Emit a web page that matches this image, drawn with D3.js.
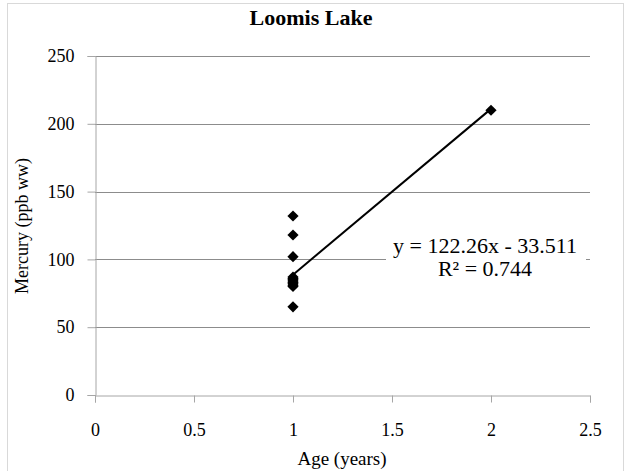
<html>
<head>
	<meta charset="utf-8">
	<script src="https://d3js.org/d3.v7.min.js"></script>
	<style>
		body { margin: 0; background: white; }
		text { font-family: "Liberation Serif", "Times New Roman", serif; fill: black; }
	</style>
</head>
<body>
	<div id="output"></div>
	<script>
		// data
		var ages = [1, 1, 1, 1, 1, 1, 1, 1, 1, 1, 1, 1, 2];
		var mercury = [132, 118, 102, 87, 86, 85, 84, 83, 82, 81, 80, 65, 210];
		var xTicks = [0, 0.5, 1, 1.5, 2, 2.5];
		var yTicks = [0, 50, 100, 150, 200, 250];
		var trendCoef = [122.26, -33.511]; // slope, intercept
		var trendRange = [1, 2];
		var trendText = ["y = 122.26x - 33.511", "R² = 0.744"];

		var width = 627, height = 471;
		var svg = d3.select("#output")
			.append("svg")
			.attr("width", width)
			.attr("height", height);

		// chart frame
		svg.append("rect")
			.attr("x", 7.5).attr("y", 3.5)
			.attr("width", 616).attr("height", 470)
			.style("fill", "white")
			.style("stroke", "#d9d9d9");

		var x = d3.scaleLinear().domain([0, 2.5]).range([95, 590]);
		var y = d3.scaleLinear().domain([0, 250]).range([395, 56]);

		// gridlines
		svg.selectAll(".grid")
			.data(yTicks.filter(function(d){ return d > 0; }))
			.enter().append("line")
			.attr("x1", x(0)).attr("x2", x(2.5))
			.attr("y1", function(d){ return Math.round(y(d)) + 0.5; })
			.attr("y2", function(d){ return Math.round(y(d)) + 0.5; })
			.style("stroke", "#8c8c8c");

		// x axis
		var xAxis = svg.append("g")
			.attr("transform", "translate(0," + (Math.round(y(0)) + 0.5) + ")")
			.call(d3.axisBottom(x).tickValues(xTicks).tickSize(7).tickPadding(21).tickFormat(d3.format("")));
		// y axis
		var yAxis = svg.append("g")
			.attr("transform", "translate(" + (Math.round(x(0)) + 0.5) + ",0)")
			.call(d3.axisLeft(y).tickValues(yTicks).tickSize(8).tickPadding(13));
		[xAxis, yAxis].forEach(function(g){
			g.select(".domain").style("stroke", "#a6a6a6");
			g.selectAll(".tick line").style("stroke", "#a6a6a6");
			g.selectAll("text")
				.style("font-family", "Liberation Serif")
				.style("font-size", "18px")
				.style("fill", "black");
		});

		// trendline
		svg.append("line")
			.attr("x1", x(trendRange[0]))
			.attr("y1", y(trendCoef[0] * trendRange[0] + trendCoef[1]))
			.attr("x2", x(trendRange[1]))
			.attr("y2", y(trendCoef[0] * trendRange[1] + trendCoef[1]))
			.style("stroke", "black")
			.style("stroke-width", 2);

		// points
		svg.selectAll(".pt")
			.data(mercury)
			.enter().append("path")
			.attr("d", d3.symbol().type(d3.symbolDiamond2).size(80))
			.attr("transform", function(d, i){ return "translate(" + x(ages[i]) + "," + y(d) + ")"; })
			.style("fill", "black");

		// trendline label
		svg.append("rect")
			.attr("x", 386).attr("y", 233)
			.attr("width", 200).attr("height", 52)
			.style("fill", "white");
		svg.selectAll(".eq")
			.data(trendText)
			.enter().append("text")
			.attr("x", 485)
			.attr("y", function(d, i){ return 253 + i * 23; })
			.style("font-size", "22px")
			.style("text-anchor", "middle")
			.text(function(d){ return d; });

		// title
		svg.append("text")
			.attr("x", 311).attr("y", 25)
			.style("font-size", "22px")
			.style("font-weight", "bold")
			.style("text-anchor", "middle")
			.text("Loomis Lake");
		// axis titles
		svg.append("text")
			.attr("x", 342).attr("y", 465)
			.style("font-size", "19px")
			.style("text-anchor", "middle")
			.text("Age (years)");
		svg.append("text")
			.attr("transform", "translate(28,226) rotate(-90)")
			.style("font-size", "18px")
			.style("text-anchor", "middle")
			.text("Mercury (ppb ww)");
	</script>
</body>
</html>
